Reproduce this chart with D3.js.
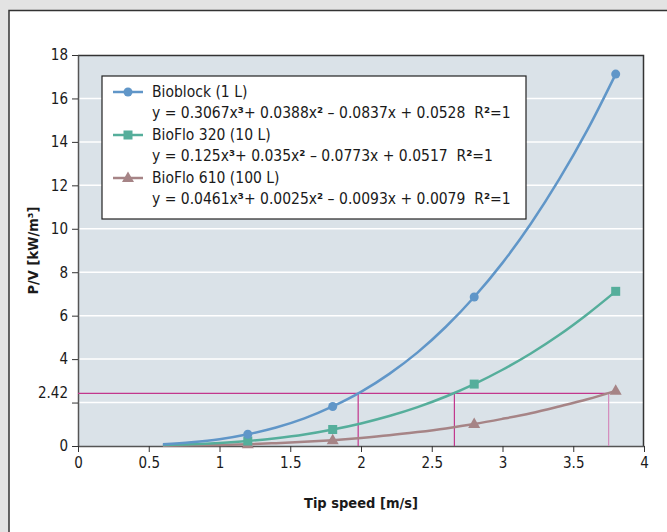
<!DOCTYPE html>
<html>
<head>
<meta charset="utf-8">
<script src="https://cdn.jsdelivr.net/npm/d3@7"></script>
<style>
  body { margin: 0; background: #e3e3e3; }
  svg { display: block; }
  text { font-family: "DejaVu Sans Condensed", "DejaVu Sans", sans-serif; fill: #1a1a1a; }
</style>
</head>
<body>
<div id="chart"></div>
<script>
// series names + legend equations
var seriesNames = ['Bioblock (1 L)', 'BioFlo 320 (10 L)', 'BioFlo 610 (100 L)']
var equations = [
  ['y = 0.3067x', '\u00b3', '+ 0.0388x', '\u00b2', ' \u2013 0.0837x + 0.0528  R', '\u00b2', '=1'],
  ['y = 0.125x', '\u00b3', '+ 0.035x', '\u00b2', ' \u2013 0.0773x + 0.0517  R', '\u00b2', '=1'],
  ['y = 0.0461x', '\u00b3', '+ 0.0025x', '\u00b2', ' \u2013 0.0093x + 0.0079  R', '\u00b2', '=1']
]
var colors = ['#6096c8', '#55ae9b', '#a68486']
var markerTypes = ['circle', 'square', 'triangle']

// measured points (tip speed m/s)
var pointX = [1.2, 1.8, 2.8, 3.8]
var bioblockPts = [0.54, 1.82, 6.86, 17.12]
var bioflo320Pts = [0.23, 0.76, 2.85, 7.12]
var bioflo610Pts = [0.08, 0.27, 1.01, 2.54]

// trend lines
var trendX = [0.6, 0.8, 1.0, 1.2, 1.4, 1.6, 1.8, 2.0, 2.2, 2.4, 2.6, 2.8, 3.0, 3.2, 3.4, 3.6, 3.8]
var bioblockTrend = [0.08, 0.17, 0.31, 0.54, 0.85, 1.27, 1.82, 2.49, 3.32, 4.31, 5.49, 6.86, 8.43, 10.23, 12.27, 14.55, 17.12]
var bioflo320Trend = [0.05, 0.08, 0.14, 0.23, 0.36, 0.53, 0.76, 1.04, 1.38, 1.79, 2.28, 2.85, 3.51, 4.26, 5.11, 6.07, 7.12]
var bioflo610Trend = [0.01, 0.03, 0.05, 0.08, 0.13, 0.19, 0.27, 0.37, 0.49, 0.64, 0.81, 1.01, 1.25, 1.51, 1.82, 2.15, 2.54]

var pointSets = [bioblockPts, bioflo320Pts, bioflo610Pts]
var trendSets = [bioblockTrend, bioflo320Trend, bioflo610Trend]

// reading lines at P/V = 2.42
var refLevel = 2.42
var refX = [1.98, 2.66, 3.75]
var refColors = ['#c2368c', '#c2368c', '#d48cbd']

var xTicks = [0, 0.5, 1, 1.5, 2, 2.5, 3, 3.5, 4]
var yTicks = [0, 2, 4, 6, 8, 10, 12, 14, 16, 18]
var yTickLabels = ['0', '', '4', '6', '8', '10', '12', '14', '16', '18']

var W = 667, H = 532
var margin = { top: 55, left: 78, right: 23, bottom: 86 }
var width = W - margin.left - margin.right
var height = H - margin.top - margin.bottom

var svg = d3.select('#chart').append('svg')
  .attr('width', W)
  .attr('height', H)

// white panel
svg.append('rect')
  .attr('x', 9).attr('y', 10.5)
  .attr('width', W).attr('height', H)
  .attr('fill', '#fff')
  .attr('stroke', '#333')
  .attr('stroke-width', 1.5)

var xScale = d3.scaleLinear().domain([0, 4]).range([0, width])
var yScale = d3.scaleLinear().domain([0, 18]).range([height, 0])

var g = svg.append('g')
  .attr('transform', 'translate(' + margin.left + ',' + margin.top + ')')

g.append('rect')
  .attr('width', width).attr('height', height)
  .attr('fill', '#dae2e8')

// grid
g.selectAll('line.grid').data(yTicks.slice(1, -1))
  .enter().append('line')
  .attr('class', 'grid')
  .attr('x1', 0).attr('x2', width)
  .attr('y1', function(d) { return yScale(d) })
  .attr('y2', function(d) { return yScale(d) })
  .attr('stroke', '#fff')
  .attr('stroke-width', 1.5)

// top + right frame
g.append('path')
  .attr('d', 'M0,0.5 H' + (width - 0.5) + ' V' + height)
  .attr('fill', 'none')
  .attr('stroke', '#333')
  .attr('stroke-width', 1.5)

// axes
var yAxis = d3.axisLeft(yScale)
  .tickValues(yTicks)
  .tickFormat(function(d, i) { return yTickLabels[i] })
  .tickSizeInner(6).tickSizeOuter(0).tickPadding(4)
var yAx = g.append('g').call(yAxis)
yAx.select('.domain').attr('stroke', '#555').attr('stroke-width', 1.5)
yAx.selectAll('.tick line').attr('stroke', '#333')
yAx.selectAll('text').style('font-size', '15px').attr('fill', '#1a1a1a')
yAx.append('text')
  .attr('x', -10).attr('y', yScale(refLevel))
  .attr('dy', '0.32em')
  .attr('text-anchor', 'end')
  .style('font-size', '15px')
  .attr('fill', '#1a1a1a')
  .text('2.42')

var xAxis = d3.axisBottom(xScale)
  .tickValues(xTicks)
  .tickFormat(d3.format('~g'))
  .tickSizeInner(6).tickSizeOuter(0).tickPadding(5)
var xAx = g.append('g')
  .attr('transform', 'translate(0,' + height + ')')
  .call(xAxis)
xAx.select('.domain').attr('stroke', '#555').attr('stroke-width', 1.5)
xAx.selectAll('.tick line').attr('stroke', '#333')
xAx.selectAll('text').style('font-size', '15px').attr('fill', '#1a1a1a')

// reference lines
g.append('line')
  .attr('x1', 0).attr('x2', xScale(refX[2]))
  .attr('y1', yScale(refLevel)).attr('y2', yScale(refLevel))
  .attr('stroke', refColors[0]).attr('stroke-width', 1.2)
g.selectAll('line.ref').data(refX)
  .enter().append('line')
  .attr('class', 'ref')
  .attr('x1', function(d) { return xScale(d) })
  .attr('x2', function(d) { return xScale(d) })
  .attr('y1', yScale(0)).attr('y2', yScale(refLevel))
  .attr('stroke', function(d, i) { return refColors[i] })
  .attr('stroke-width', 1.2)

var line = d3.line()
  .x(function(d) { return xScale(d[0]) })
  .y(function(d) { return yScale(d[1]) })
  .curve(d3.curveMonotoneX)

function drawMarker(sel, type, color, x, y) {
  if (type === 'circle') {
    sel.append('circle').attr('cx', x).attr('cy', y).attr('r', 4.5).attr('fill', color)
  } else if (type === 'square') {
    sel.append('rect').attr('x', x - 4.5).attr('y', y - 4.5)
      .attr('width', 9).attr('height', 9).attr('fill', color)
  } else {
    sel.append('path')
      .attr('d', 'M' + x + ',' + (y - 6.5) + ' L' + (x + 6) + ',' + (y + 4) + ' L' + (x - 6) + ',' + (y + 4) + ' Z')
      .attr('fill', color)
  }
}

// draw in reverse order so blue is on top
for (var s = 2; s >= 0; s--) {
  var trend = trendX.map(function(x, i) { return [x, trendSets[s][i]] })
  g.append('path')
    .datum(trend)
    .attr('d', line)
    .attr('fill', 'none')
    .attr('stroke', colors[s])
    .attr('stroke-width', 2.5)
  var mg = g.append('g')
  for (var i = 0; i < pointX.length; i++) {
    drawMarker(mg, markerTypes[s], colors[s], xScale(pointX[i]), yScale(pointSets[s][i]))
  }
}

// legend
var lg = svg.append('g')
lg.append('rect')
  .attr('x', 102).attr('y', 76)
  .attr('width', 424).attr('height', 143)
  .attr('fill', '#fff')
  .attr('stroke', '#222')
  .attr('stroke-width', 1.2)

var rowY = [92, 135, 178]
seriesNames.forEach(function(name, s) {
  var cy = rowY[s]
  lg.append('line')
    .attr('x1', 113).attr('x2', 143)
    .attr('y1', cy).attr('y2', cy)
    .attr('stroke', colors[s]).attr('stroke-width', 2.5)
  drawMarker(lg, markerTypes[s], colors[s], 128, cy)
  lg.append('text')
    .attr('x', 152).attr('y', cy + 5)
    .style('font-size', '15.5px')
    .text(name)
  var eq = lg.append('text')
    .attr('x', 152).attr('y', cy + 26)
    .style('font-size', '15.5px')
    .style('white-space', 'pre')
  equations[s].forEach(function(part, k) {
    var t = eq.append('tspan').text(part)
    if (k % 2 === 1) t.style('font-weight', 'bold')
  })
})

// axis titles
svg.append('text')
  .attr('transform', 'translate(38,' + (margin.top + height / 2) + ') rotate(-90)')
  .attr('text-anchor', 'middle')
  .style('font-size', '14.5px')
  .style('font-weight', 'bold')
  .text('P/V [kW/m\u00b3]')

svg.append('text')
  .attr('x', margin.left + width / 2)
  .attr('y', 508)
  .attr('text-anchor', 'middle')
  .style('font-size', '14.5px')
  .style('font-weight', 'bold')
  .text('Tip speed [m/s]')
</script>
</body>
</html>
